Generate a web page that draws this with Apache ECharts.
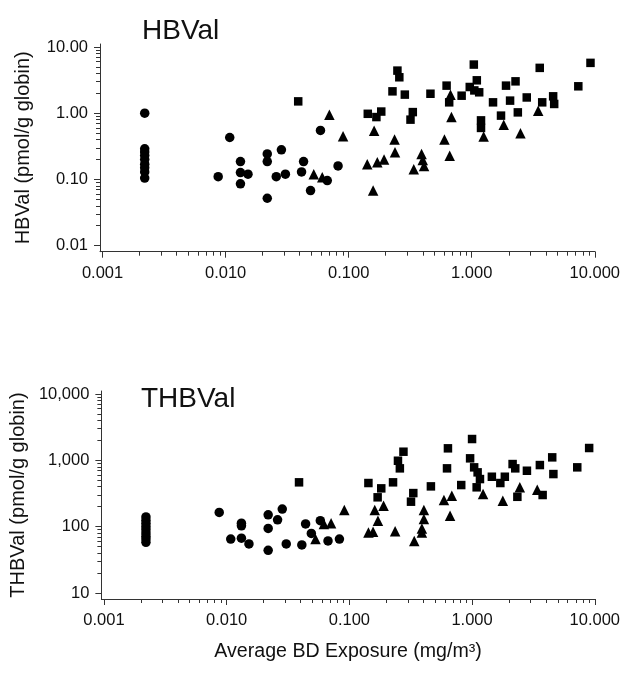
<!DOCTYPE html>
<html><head><meta charset="utf-8">
<script src="https://cdn.jsdelivr.net/npm/echarts@6/dist/echarts.min.js"></script>
<style>html,body{margin:0;padding:0;background:#fff}#c{width:623px;height:673px}</style>
</head><body><div id="c"></div>
<script>
// ---- tick labels ----
const xTickValues = [0.001, 0.01, 0.1, 1, 10];
const xTickLabels = ['0.001', '0.010', '0.100', '1.000', '10.000'];
const hbTickValues = [0.01, 0.1, 1, 10];
const hbTickLabels = ['0.01', '0.10', '1.00', '10.00'];
const thbTickValues = [10, 100, 1000, 10000];
const thbTickLabels = ['10', '100', '1,000', '10,000'];

// ---- HBVal panel ----
const hbCircleX = [0.0022,0.0022,0.0022,0.0022,0.0022,0.0022,0.0022,0.0022,0.0022,
  0.0087,0.0108,0.0132,0.0132,0.0132,0.0152,0.0218,0.0218,0.0218,0.0258,0.0284,0.0306,0.0414,0.043,0.049,0.059,0.067,0.082];
const hbCircleY = [1.0,0.29,0.26,0.23,0.20,0.17,0.15,0.13,0.105,
  0.11,0.43,0.186,0.127,0.086,0.12,0.243,0.186,0.052,0.11,0.28,0.12,0.13,0.186,0.068,0.55,0.096,0.16];
const hbTriX = [0.052,0.061,0.0697,0.09,0.1416,0.158,0.161,0.171,0.194,0.236,0.238,0.338,0.391,0.40,0.41,0.60,0.662,0.672,0.684,1.25,1.82,2.49,3.47];
const hbTriY = [0.12,0.108,0.95,0.45,0.17,0.068,0.543,0.182,0.2,0.40,0.258,0.143,0.243,0.197,0.16,0.40,0.227,1.9,0.875,0.446,0.67,0.5,1.09];
const hbSqX = [0.0389,0.143,0.168,0.184,0.227,0.249,0.258,0.286,0.318,0.332,0.462,0.625,0.656,0.828,0.964,1.04,1.05,1.1,1.15,1.19,1.19,1.49,1.73,1.9,2.05,2.27,2.37,2.8,3.57,3.74,4.59,4.68,7.35,9.23];
const hbSqY = [1.51,0.98,0.875,1.06,2.14,4.4,3.49,1.91,0.80,1.04,1.97,2.61,1.46,1.84,2.49,5.43,2.21,3.14,2.07,0.78,0.6,1.46,0.92,2.61,1.55,3.03,1.03,1.73,4.84,1.46,1.8,1.38,2.55,5.76];

// ---- THBVal panel ----
const thbCircleX = [0.0022,0.0022,0.0022,0.0022,0.0022,0.0022,0.0022,0.0022,0.0022,
  0.0087,0.0108,0.0132,0.0132,0.0132,0.0152,0.0218,0.0218,0.0218,0.026,0.0284,0.0306,0.041,0.044,0.049,0.058,0.067,0.083];
const thbCircleY = [140,125,112,100,90,80,72,65,58,
  164,65,113,103,67,55,151,94,44,127,184,55,53,110,79,123,61,65];
const thbTriX = [0.053,0.062,0.071,0.091,0.143,0.156,0.161,0.171,0.19,0.236,0.338,0.39,0.39,0.405,0.405,0.59,0.662,0.684,1.23,1.78,2.45,3.4];
const thbTriY = [65,110,113,178,82,84,178,123,207,85,61,94,82,130,178,252,146,292,310,246,392,361];
const thbSqX = [0.0389,0.143,0.17,0.182,0.227,0.249,0.258,0.276,0.318,0.332,0.462,0.625,0.636,0.816,0.964,1.0,1.04,1.09,1.11,1.16,1.45,1.7,1.85,2.14,2.25,2.34,2.8,3.57,3.76,4.5,4.6,7.2,9.0];
const thbSqY = [466,455,277,378,466,986,757,1349,238,321,405,757,1517,424,1072,2096,784,392,659,522,566,455,566,879,757,282,697,849,300,1109,621,784,1534];

const FONT = '"Liberation Sans", Arial, Helvetica, sans-serif';
const AX = '#333';

function minorTicks(majors) {
  const out = [];
  for (let i = 0; i < majors.length - 1; i++) {
    for (let m = 1; m < 10; m++) out.push(majors[i] * m);
  }
  out.push(majors[majors.length - 1]);
  return out;
}
function fmt(values, labels) {
  return function (v) {
    const i = values.findIndex(t => Math.abs(Math.log10(t) - Math.log10(v)) < 1e-6);
    return i >= 0 ? labels[i] : '';
  };
}
function pairs(xs, ys) { return xs.map((x, i) => [x, ys[i]]); }

const X_MIN = 0.000953, X_MAX = 10;
const HB_MIN = 0.00811, HB_MAX = 11.1;
const THB_MIN = 8.12, THB_MAX = 11100;

function xAxes(grid, withName) {
  const main = {
    gridIndex: grid, type: 'log', position: 'bottom', min: X_MIN, max: X_MAX,
    axisLine: { show: true, onZero: false, lineStyle: { color: AX, width: 1 } },
    axisTick: { show: true, customValues: minorTicks(xTickValues), length: 4, inside: false, lineStyle: { color: AX } },
    minorTick: { show: false },
    axisLabel: { customValues: xTickValues, formatter: fmt(xTickValues, xTickLabels), margin: 13, color: '#111', fontSize: 16.5, fontFamily: FONT },
    splitLine: { show: false }
  };
  if (withName) {
    main.name = 'Average BD Exposure (mg/m\u00B3)';
    main.nameLocation = 'middle';
    main.nameGap = 43;
    main.nameTextStyle = { fontSize: 19.6, color: '#111', fontFamily: FONT };
  }
  const overlay = {
    gridIndex: grid, type: 'log', position: 'bottom', min: X_MIN, max: X_MAX,
    axisLine: { show: false, onZero: false },
    axisTick: { show: true, customValues: xTickValues, length: 6, lineStyle: { color: AX } },
    axisLabel: { show: false }, splitLine: { show: false }
  };
  return [main, overlay];
}
function yAxes(grid, min, max, vals, labs, name) {
  const main = {
    gridIndex: grid, type: 'log', position: 'left', min: min, max: max,
    name: name, nameLocation: 'middle', nameGap: 67, nameRotate: 90,
    nameTextStyle: { fontSize: 20, color: '#111', fontFamily: FONT },
    axisLine: { show: true, onZero: false, lineStyle: { color: AX, width: 1 } },
    axisTick: { show: true, customValues: minorTicks(vals), length: 4, lineStyle: { color: AX } },
    minorTick: { show: false },
    axisLabel: { customValues: vals, formatter: fmt(vals, labs), margin: 12, color: '#111', fontSize: 16.5, fontFamily: FONT },
    splitLine: { show: false }
  };
  const overlay = {
    gridIndex: grid, type: 'log', position: 'left', min: min, max: max,
    axisLine: { show: false, onZero: false },
    axisTick: { show: true, customValues: vals, length: 6, lineStyle: { color: AX } },
    axisLabel: { show: false }, splitLine: { show: false }
  };
  return [main, overlay];
}
function scatter(xi, yi, sym, size, data) {
  return { type: 'scatter', xAxisIndex: xi, yAxisIndex: yi, symbol: sym, symbolSize: size,
    itemStyle: { color: '#000', opacity: 1 }, data: data, animation: false, silent: true };
}

const chart = echarts.init(document.getElementById('c'), null, { renderer: 'canvas' });
chart.setOption({
  backgroundColor: '#fff',
  animation: false,
  title: [
    { text: 'HBVal', left: 137, top: 12, textStyle: { fontSize: 28, fontWeight: 'normal', color: '#111', fontFamily: FONT } },
    { text: 'THBVal', left: 136, top: 380, textStyle: { fontSize: 28, fontWeight: 'normal', color: '#111', fontFamily: FONT } }
  ],
  grid: [
    { left: 100, top: 44, width: 513, height: 207.7, containLabel: false },
    { left: 100, top: 391, width: 513, height: 208, containLabel: false }
  ],
  xAxis: [].concat(xAxes(0, false), xAxes(1, true)),
  yAxis: [].concat(
    yAxes(0, HB_MIN, HB_MAX, hbTickValues, hbTickLabels, 'HBVal (pmol/g globin)'),
    yAxes(1, THB_MIN, THB_MAX, thbTickValues, thbTickLabels, 'THBVal (pmol/g globin)')
  ),
  series: [
    scatter(0, 0, 'circle', 9.5, pairs(hbCircleX, hbCircleY)),
    scatter(0, 0, 'triangle', 10.5, pairs(hbTriX, hbTriY)),
    scatter(0, 0, 'rect', 8.5, pairs(hbSqX, hbSqY)),
    scatter(2, 2, 'circle', 9.5, pairs(thbCircleX, thbCircleY)),
    scatter(2, 2, 'triangle', 10.5, pairs(thbTriX, thbTriY)),
    scatter(2, 2, 'rect', 8.5, pairs(thbSqX, thbSqY))
  ]
});
</script>
</body></html>
